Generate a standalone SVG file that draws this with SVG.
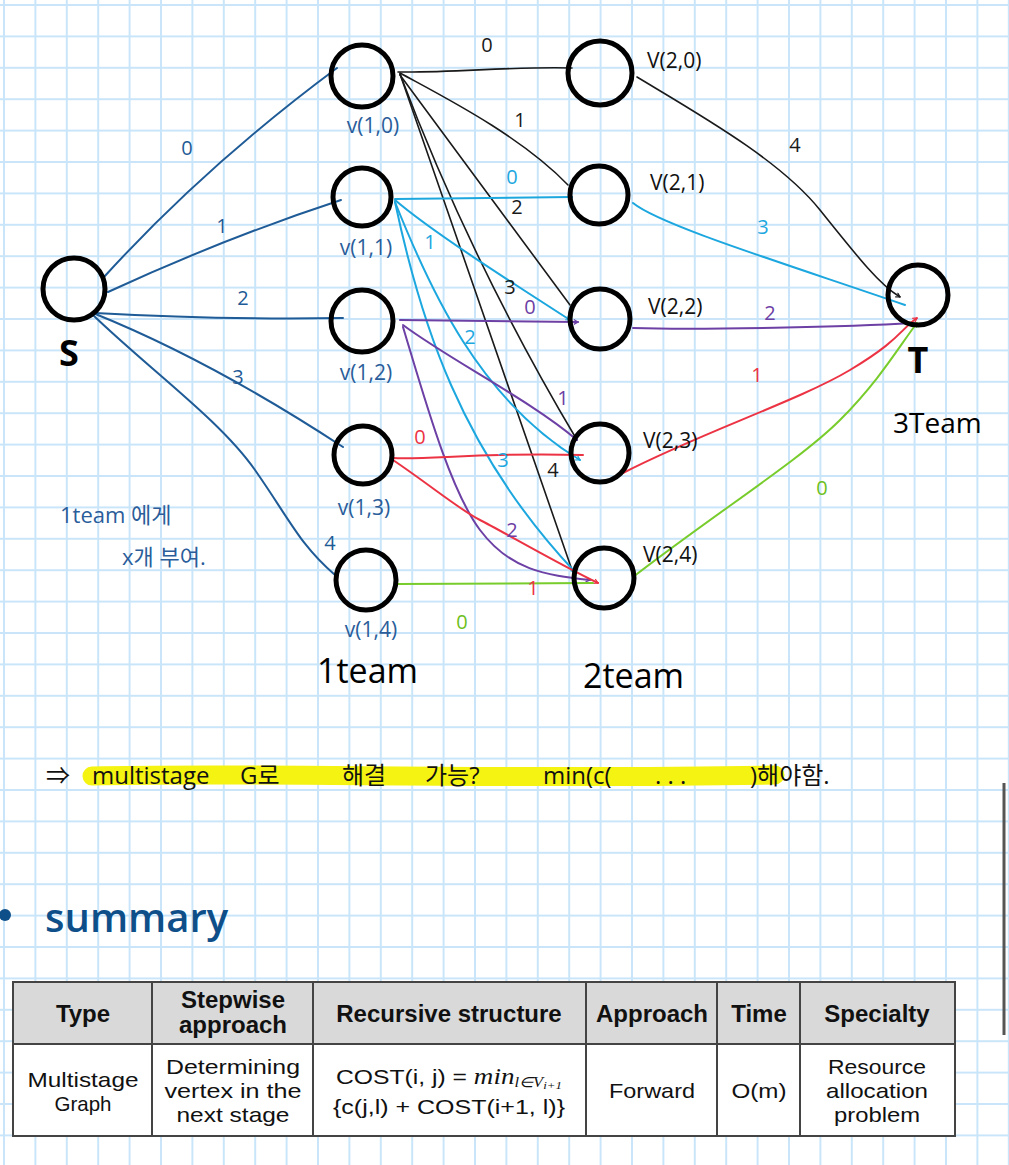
<svg xmlns="http://www.w3.org/2000/svg" width="1009" height="1165" viewBox="0 0 1009 1165">
<defs>
  <pattern id="grid" patternUnits="userSpaceOnUse" x="-11.7" y="-10.7" width="31.4" height="31.4">
    <path d="M15.7,0 V31.4 M0,15.7 H31.4" stroke="#c9e5f9" stroke-width="2" fill="none"/>
  </pattern>
  <marker id="ak" viewBox="0 0 10 10" refX="9" refY="5" markerWidth="6" markerHeight="6" orient="auto" markerUnits="userSpaceOnUse"><path d="M2,1 L9,5 L2,9" fill="none" stroke="#1a1a1a" stroke-width="2"/></marker>
  <marker id="ac" viewBox="0 0 10 10" refX="9" refY="5" markerWidth="6" markerHeight="6" orient="auto" markerUnits="userSpaceOnUse"><path d="M2,1 L9,5 L2,9" fill="none" stroke="#1ca7df" stroke-width="2"/></marker>
  <marker id="ap" viewBox="0 0 10 10" refX="9" refY="5" markerWidth="6" markerHeight="6" orient="auto" markerUnits="userSpaceOnUse"><path d="M2,1 L9,5 L2,9" fill="none" stroke="#6c40a4" stroke-width="2"/></marker>
  <marker id="ar" viewBox="0 0 10 10" refX="9" refY="5" markerWidth="6" markerHeight="6" orient="auto" markerUnits="userSpaceOnUse"><path d="M2,1 L9,5 L2,9" fill="none" stroke="#ec3344" stroke-width="2"/></marker>
  <marker id="ag" viewBox="0 0 10 10" refX="9" refY="5" markerWidth="6" markerHeight="6" orient="auto" markerUnits="userSpaceOnUse"><path d="M2,1 L9,5 L2,9" fill="none" stroke="#78cc2c" stroke-width="2"/></marker>
  <style>
    .node{fill:none;stroke:#000;stroke-width:5}
    .e{fill:none;stroke-width:2;stroke-linecap:round}
    .db{stroke:#1f5b96}
    .bk{stroke:#1a1a1a;stroke-width:1.6}
    .cy{stroke:#1ca7df}
    .pu{stroke:#6c40a4}
    .rd{stroke:#ec3344}
    .gr{stroke:#78cc2c}
    .hw{font-family:"Open Sans","Noto Sans","Noto Sans CJK KR",sans-serif}
    .lbl{font-family:"Open Sans","Noto Sans",sans-serif;font-size:20px;text-anchor:middle}
    .nl1{font-family:"Open Sans","Noto Sans",sans-serif;font-size:21px;fill:#2a5d9a;text-anchor:middle}
    .nl2{font-family:"Open Sans","Noto Sans",sans-serif;font-size:21px;fill:#111}
    .big{font-family:"Open Sans","Noto Sans",sans-serif;fill:#000}
    .th{font-family:"Liberation Sans",Arial,sans-serif;font-weight:bold;font-size:24px;text-anchor:middle;fill:#111}
    .td{font-family:"Liberation Sans",Arial,sans-serif;font-size:21px;text-anchor:middle;fill:#111}
  </style>
</defs>
<rect width="1009" height="1165" fill="#ffffff"/>
<rect width="1009" height="1165" fill="url(#grid)"/>

<g id="connectors">
  <!-- S to stage 1 -->
  <path class="e db" d="M104,277 C165,210 240,140 337,68"/>
  <path class="e db" d="M108,292 Q225,238 341,200"/>
  <path class="e db" d="M95,313 Q220,320 343,318"/>
  <path class="e db" d="M93,313 Q210,360 343,447"/>
  <path class="e db" d="M93,315 C150,370 220,420 255,470 S300,545 335,575"/>
  <!-- V(1,0) black -->
  <path class="e bk" d="M398,72 C450,73 520,66 572,68"/>
  <path class="e bk" d="M400,73 C440,95 520,135 568,185"/>
  <path class="e bk" d="M400,75 L570,305"/>
  <path class="e bk" d="M400,74 Q470,260 577,440"/>
  <path class="e bk" d="M400,74 L572,570"/>
  <!-- V(1,1) cyan -->
  <path class="e cy" d="M395,199 L572,197" marker-end="url(#ac)"/>
  <path class="e cy" d="M395,200 C430,230 500,275 570,320" marker-end="url(#ac)"/>
  <path class="e cy" d="M395,202 C430,290 480,400 580,460" marker-end="url(#ac)"/>
  <path class="e cy" d="M395,202 C420,320 460,450 575,572" marker-end="url(#ac)"/>
  <!-- V(1,2) purple -->
  <path class="e pu" d="M400,320 L578,322" marker-end="url(#ap)"/>
  <path class="e pu" d="M403,325 C450,360 530,400 577,440" marker-end="url(#ap)"/>
  <path class="e pu" d="M403,327 C425,400 450,490 480,530 S545,575 590,580" marker-end="url(#ap)"/>
  <!-- V(1,3) red -->
  <path class="e rd" d="M393,458 C430,460 480,452 583,455"/>
  <path class="e rd" d="M393,460 C430,485 460,510 480,520 S560,565 598,583" marker-end="url(#ar)"/>
  <!-- V(1,4) green -->
  <path class="e gr" d="M398,584 L593,583"/>
  <!-- stage 2 to T -->
  <path class="e bk" d="M637,77 C700,115 780,160 820,210 S880,285 900,297" marker-end="url(#ak)"/>
  <path class="e cy" d="M633,203 C660,225 780,262 905,305"/>
  <path class="e pu" d="M633,328 C700,330 850,327 912,323"/>
  <path class="e rd" d="M623,473 C700,433 800,400 850,370 S900,330 917,318" marker-end="url(#ar)"/>
  <path class="e gr" d="M633,577 C720,510 800,460 840,420 S900,345 917,323" marker-end="url(#ag)"/>

  <!-- edge labels -->
  <g class="lbl" fill="#1f5b96">
    <text x="187" y="155">0</text>
    <text x="222" y="233">1</text>
    <text x="243" y="305">2</text>
    <text x="238" y="384">3</text>
    <text x="330" y="550">4</text>
  </g>
  <g class="lbl" fill="#1a1a1a">
    <text x="487" y="52">0</text>
    <text x="520" y="127">1</text>
    <text x="517" y="214">2</text>
    <text x="510" y="294">3</text>
    <text x="553" y="477">4</text>
    <text x="795" y="152">4</text>
  </g>
  <g class="lbl" fill="#1ca7df">
    <text x="512" y="184">0</text>
    <text x="430" y="249">1</text>
    <text x="470" y="344">2</text>
    <text x="503" y="467">3</text>
    <text x="763" y="234">3</text>
  </g>
  <g class="lbl" fill="#6c40a4">
    <text x="530" y="314">0</text>
    <text x="563" y="405">1</text>
    <text x="512" y="537">2</text>
    <text x="770" y="320">2</text>
  </g>
  <g class="lbl" fill="#ec3344">
    <text x="420" y="444">0</text>
    <text x="533" y="595">1</text>
    <text x="757" y="382">1</text>
  </g>
  <g class="lbl" fill="#6cc020">
    <text x="462" y="629">0</text>
    <text x="822" y="495">0</text>
  </g>
</g>

<g id="node-S"><circle class="node" cx="74" cy="289" r="31"/><text class="big" x="69" y="366" font-size="36" font-weight="bold" text-anchor="middle">S</text></g>
<g id="node-v10"><circle class="node" cx="362" cy="76" r="31"/><text class="nl1" x="373" y="133">v(1,0)</text></g>
<g id="node-v11"><circle class="node" cx="362" cy="197" r="29"/><text class="nl1" x="366" y="255">v(1,1)</text></g>
<g id="node-v12"><circle class="node" cx="362" cy="321" r="31"/><text class="nl1" x="366" y="380">v(1,2)</text></g>
<g id="node-v13"><circle class="node" cx="363" cy="455" r="29"/><text class="nl1" x="364" y="515">v(1,3)</text></g>
<g id="node-v14"><circle class="node" cx="366" cy="580" r="30"/><text class="nl1" x="371" y="637">v(1,4)</text></g>
<g id="node-v20"><circle class="node" cx="600" cy="73" r="32"/><text class="nl2" x="647" y="68">V(2,0)</text></g>
<g id="node-v21"><circle class="node" cx="599" cy="195" r="29"/><text class="nl2" x="650" y="190">V(2,1)</text></g>
<g id="node-v22"><circle class="node" cx="600" cy="319" r="30"/><text class="nl2" x="648" y="314">V(2,2)</text></g>
<g id="node-v23"><circle class="node" cx="600" cy="453" r="29"/><text class="nl2" x="643" y="448">V(2,3)</text></g>
<g id="node-v24"><circle class="node" cx="604" cy="578" r="30"/><text class="nl2" x="643" y="562">V(2,4)</text></g>
<g id="node-T"><circle class="node" cx="918" cy="295" r="30"/><text class="big" x="918" y="373" font-size="36" font-weight="bold" text-anchor="middle">T</text></g>

<g id="stage-labels" class="big">
  <text x="317" y="683" font-size="34">1team</text>
  <text x="583" y="688" font-size="34">2team</text>
  <text x="893" y="433" font-size="28">3Team</text>
</g>

<g id="note" class="hw" fill="#2a5d9a" font-size="22">
  <text x="60" y="523">1team 에게</text>
  <text x="122" y="565">x개 부여.</text>
</g>

<g id="highlight-line">
  <path d="M92,776 C250,772 500,780 775,775" stroke="#f5f312" stroke-width="19" stroke-linecap="round" fill="none"/>
  <g class="hw" fill="#111" font-size="24">
    <text x="46" y="784">⇒</text>
    <text x="92" y="784">multistage</text>
    <text x="240" y="784">G로</text>
    <text x="342" y="784">해결</text>
    <text x="425" y="784">가능?</text>
    <text x="543" y="784">min(c(</text>
    <text x="655" y="784">. . .</text>
    <text x="750" y="784">)해야함.</text>
  </g>
</g>

<g id="summary">
  <circle cx="5" cy="915" r="6" fill="#0e4f8a"/>
  <text x="45" y="932" font-family="Open Sans, Noto Sans, sans-serif" font-size="40" font-weight="600" fill="#0e4f8a">summary</text>
</g>

<line x1="1004" y1="783" x2="1004" y2="1035" stroke="#555" stroke-width="3"/>

<g id="table">
  <rect x="13" y="982" width="942" height="62" fill="#d9d9d9"/>
  <rect x="13" y="1044" width="942" height="92" fill="#ffffff"/>
  <g stroke="#444" stroke-width="2" fill="none">
    <rect x="13" y="982" width="942" height="154"/>
    <line x1="13" y1="1044" x2="955" y2="1044"/>
    <line x1="152" y1="982" x2="152" y2="1136"/>
    <line x1="313" y1="982" x2="313" y2="1136"/>
    <line x1="586" y1="982" x2="586" y2="1136"/>
    <line x1="717" y1="982" x2="717" y2="1136"/>
    <line x1="800" y1="982" x2="800" y2="1136"/>
  </g>
  <text class="th" x="83" y="1022">Type</text>
  <text class="th" x="233" y="1008">Stepwise</text>
  <text class="th" x="233" y="1033">approach</text>
  <text class="th" x="449" y="1022">Recursive structure</text>
  <text class="th" x="652" y="1022">Approach</text>
  <text class="th" x="759" y="1022">Time</text>
  <text class="th" x="877" y="1022">Specialty</text>

  <text class="td" x="83" y="1087" textLength="111" lengthAdjust="spacingAndGlyphs">Multistage</text>
  <text class="td" x="83" y="1111" textLength="57" lengthAdjust="spacingAndGlyphs">Graph</text>
  <text class="td" x="233" y="1074" textLength="134" lengthAdjust="spacingAndGlyphs">Determining</text>
  <text class="td" x="233" y="1098" textLength="137" lengthAdjust="spacingAndGlyphs">vertex in the</text>
  <text class="td" x="233" y="1122" textLength="113" lengthAdjust="spacingAndGlyphs">next stage</text>
  <text class="td" x="449" y="1084" textLength="226" lengthAdjust="spacingAndGlyphs">COST(i, j) = <tspan font-family="Liberation Serif, serif" font-style="italic" font-size="23">min</tspan><tspan font-family="Liberation Serif, serif" font-style="italic" font-size="14" dy="3">l∈V</tspan><tspan font-family="Liberation Serif, serif" font-style="italic" font-size="11" dy="2">i+1</tspan></text>
  <text class="td" x="449" y="1114" textLength="232" lengthAdjust="spacingAndGlyphs">{c(j,l) + COST(i+1, l)}</text>
  <text class="td" x="652" y="1098" textLength="86" lengthAdjust="spacingAndGlyphs">Forward</text>
  <text class="td" x="759" y="1098" textLength="55" lengthAdjust="spacingAndGlyphs">O(m)</text>
  <text class="td" x="877" y="1074" textLength="98" lengthAdjust="spacingAndGlyphs">Resource</text>
  <text class="td" x="877" y="1098" textLength="102" lengthAdjust="spacingAndGlyphs">allocation</text>
  <text class="td" x="877" y="1122" textLength="86" lengthAdjust="spacingAndGlyphs">problem</text>
</g>
</svg>
